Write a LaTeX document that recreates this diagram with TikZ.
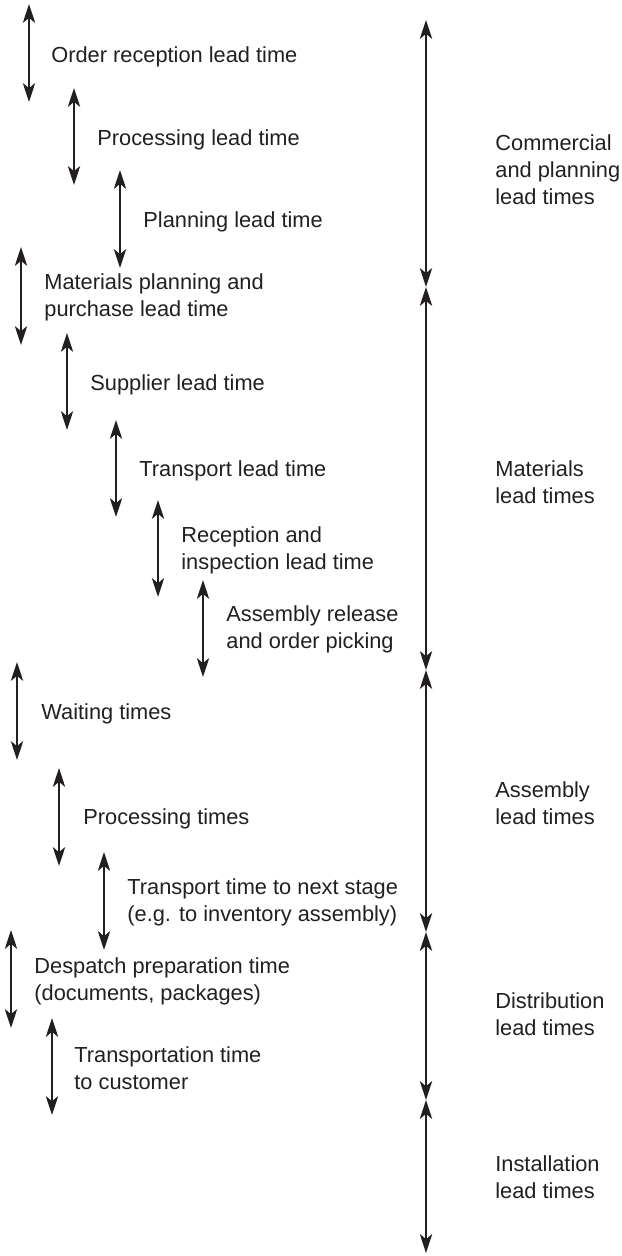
\documentclass[tikz,border=0pt]{standalone}
\usepackage{fontspec}
\setmainfont{Liberation Sans}
\usetikzlibrary{arrows.meta}
\definecolor{ink}{RGB}{35,31,32}
\begin{document}
\begin{tikzpicture}[x=0.5pt,y=-0.5pt,
  lbl/.style={anchor=west,inner sep=0pt,align=left,text=ink,font=\fontsize{10.9}{13.4}\selectfont},
  span/.style={draw=ink,line width=0.65pt,{Stealth[length=9.5pt,width=6.2pt,inset=2.6pt]}-{Stealth[length=9.5pt,width=6.2pt,inset=2.6pt]}}]
\useasboundingbox (0,0) rectangle (621,1256);
% left step arrows
\coordinate (a1t) at (29,4);    \coordinate (a1b) at (29,102);
\coordinate (a2t) at (74,88);   \coordinate (a2b) at (74,185);
\coordinate (a3t) at (120,170); \coordinate (a3b) at (120,268);
\coordinate (a4t) at (21,247);  \coordinate (a4b) at (21,345);
\coordinate (a5t) at (67,333);  \coordinate (a5b) at (67,430);
\coordinate (a6t) at (116,420); \coordinate (a6b) at (116,517);
\coordinate (a7t) at (158,500); \coordinate (a7b) at (158,597);
\coordinate (a8t) at (203,580); \coordinate (a8b) at (203,677);
\coordinate (a9t) at (17,662);  \coordinate (a9b) at (17,760);
\coordinate (a10t) at (59,768); \coordinate (a10b) at (59,866);
\coordinate (a11t) at (104,852);\coordinate (a11b) at (104,950);
\coordinate (a12t) at (11,930); \coordinate (a12b) at (11,1028);
\coordinate (a13t) at (52,1018);\coordinate (a13b) at (52,1115);
\foreach \i in {1,...,13} \draw[span] (a\i t) -- (a\i b);
% left labels
\node[lbl] (l1) at (51,57) {Order reception lead time};
\node[lbl] (l2) at (97,140) {Processing lead time};
\node[lbl] (l3) at (143,222) {Planning lead time};
\node[lbl] (l4) at (44,297) {Materials planning and\\purchase lead time};
\node[lbl] (l5) at (90,385) {Supplier lead time};
\node[lbl] (l6) at (139,471) {Transport lead time};
\node[lbl] (l7) at (181,550) {Reception and\\inspection lead time};
\node[lbl] (l8) at (226,629) {Assembly release\\and order picking};
\node[lbl] (l9) at (41,714) {Waiting times};
\node[lbl] (l10) at (83,819) {Processing times};
\node[lbl] (l11) at (127,902) {Transport time to next stage\\(e.g. to inventory assembly)};
\node[lbl] (l12) at (34,981) {Despatch preparation time\\(documents, packages)};
\node[lbl] (l13) at (74,1068) {Transportation time\\to customer};
% right axis
\coordinate (r0) at (426,20);
\coordinate (r1) at (426,287);
\coordinate (r2) at (426,670);
\coordinate (r3) at (426,932);
\coordinate (r4) at (426,1100);
\coordinate (r5) at (426,1253);
\draw[span] (r0) -- (r1);
\draw[span] (r1) -- (r2);
\draw[span] (r2) -- (r3);
\draw[span] (r3) -- (r4);
\draw[span] (r4) -- (r5);
\node[lbl] (c1) at (495,170) {Commercial\\and planning\\lead times};
\node[lbl] (c2) at (495,482) {Materials\\lead times};
\node[lbl] (c3) at (495,803) {Assembly\\lead times};
\node[lbl] (c4) at (495,1014) {Distribution\\lead times};
\node[lbl] (c5) at (495,1177) {Installation\\lead times};
\end{tikzpicture}
\end{document}
